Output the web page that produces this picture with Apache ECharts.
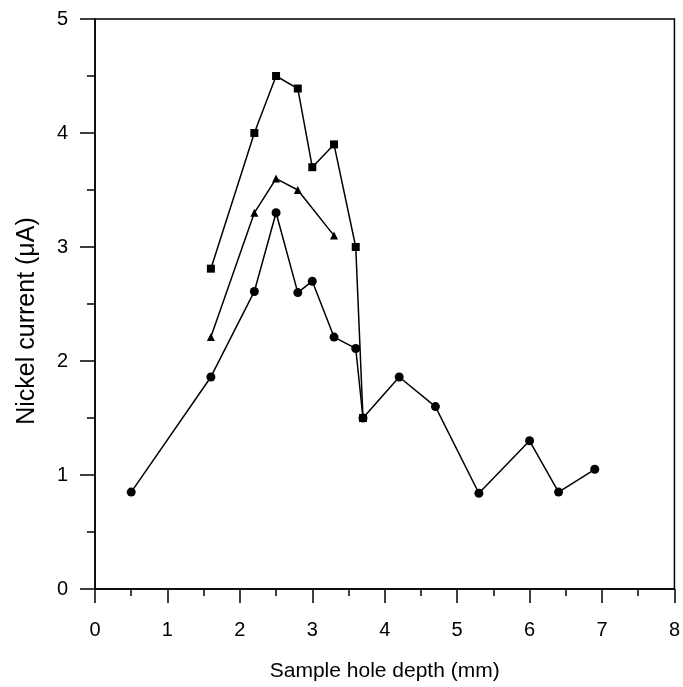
<!DOCTYPE html>
<html>
<head>
<meta charset="utf-8">
<script src="https://cdn.jsdelivr.net/npm/echarts@6/dist/echarts.min.js"></script>
<style>
html, body { margin: 0; padding: 0; background: #fff; }
#chart { width: 683px; height: 687px; }
</style>
</head>
<body>
<div id="chart"></div>
<script>
// depth (mm) / current (uA)
var squareX = [1.6, 2.2, 2.5, 2.8, 3.0, 3.3, 3.6, 3.7];
var squareY = [2.81, 4.0, 4.5, 4.39, 3.7, 3.9, 3.0, 1.5];

var triangleX = [1.6, 2.2, 2.5, 2.8, 3.3];
var triangleY = [2.21, 3.3, 3.6, 3.5, 3.1];

var circleX = [0.5, 1.6, 2.2, 2.5, 2.8, 3.0, 3.3, 3.6, 3.7, 4.2, 4.7, 5.3, 6.0, 6.4, 6.9];
var circleY = [0.85, 1.86, 2.61, 3.3, 2.6, 2.7, 2.21, 2.11, 1.5, 1.86, 1.6, 0.84, 1.3, 0.85, 1.05];

var xTicks = [0, 1, 2, 3, 4, 5, 6, 7, 8];
var yTicks = [0, 1, 2, 3, 4, 5];

function pairs(xs, ys) {
	var out = [];
	for (var i = 0; i < xs.length; i++) out.push([xs[i], ys[i]]);
	return out;
}

function lineSeries(name, symbol, size, xs, ys) {
	return {
		name: name,
		type: 'line',
		symbol: symbol,
		symbolSize: size,
		showAllSymbol: true,
		lineStyle: { color: '#000', width: 1.5 },
		itemStyle: { color: '#000' },
		emphasis: { disabled: true },
		data: pairs(xs, ys)
	};
}

var myChart = echarts.init(document.getElementById('chart'));
var font = 'Liberation Sans, Arial, sans-serif';
var tickStyle = { color: '#000', width: 1.5 };
var option = {
	animation: false,
	grid: {
		left: 95, right: 7, top: 19, bottom: 98,
		show: true, borderColor: '#000', borderWidth: 1.5
	},
	xAxis: {
		type: 'value',
		min: xTicks[0], max: xTicks[xTicks.length - 1], interval: 1,
		name: 'Sample hole depth (mm)',
		nameLocation: 'middle', nameGap: 72,
		nameTextStyle: { fontFamily: font, fontSize: 21, color: '#000' },
		axisLine: { lineStyle: tickStyle },
		axisTick: { show: true, length: 14, lineStyle: tickStyle },
		minorTick: { show: true, splitNumber: 2, length: 7, lineStyle: tickStyle },
		splitLine: { show: false },
		axisLabel: { fontFamily: font, fontSize: 20, color: '#000', margin: 31 }
	},
	yAxis: {
		type: 'value',
		min: yTicks[0], max: yTicks[yTicks.length - 1], interval: 1,
		name: 'Nickel current (\u03bcA)',
		nameLocation: 'middle', nameGap: 55, nameRotate: 90,
		nameTextStyle: { fontFamily: font, fontSize: 25, color: '#000', padding: [0, 34, 0, 0] },
		axisLine: { lineStyle: tickStyle },
		axisTick: { show: true, length: 15, lineStyle: tickStyle },
		minorTick: { show: true, splitNumber: 2, length: 8, lineStyle: tickStyle },
		splitLine: { show: false },
		axisLabel: { fontFamily: font, fontSize: 20, color: '#000', margin: 27 }
	},
	series: [
		lineSeries('square', 'rect', 8, squareX, squareY),
		lineSeries('triangle', 'triangle', 8, triangleX, triangleY),
		lineSeries('circle', 'circle', 9, circleX, circleY)
	]
};
myChart.setOption(option);
</script>
</body>
</html>
